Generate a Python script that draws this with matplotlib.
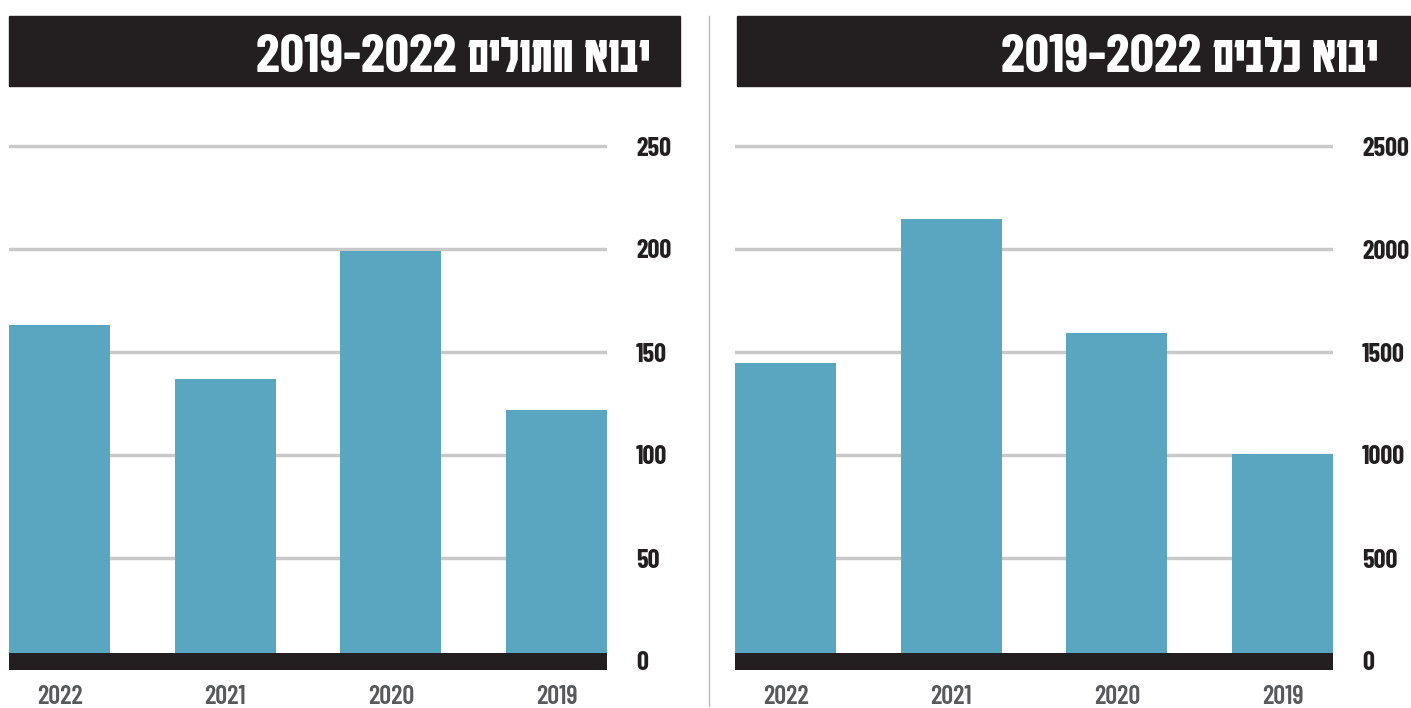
import matplotlib
matplotlib.use("Agg")
import matplotlib.pyplot as plt
from matplotlib.patches import Rectangle

years = ["2022", "2021", "2020", "2019"]
cats = [163, 137, 199, 122]
dogs = [1447, 2146, 1592, 1005]
title_cats = "יבוא חתולים 2019-2022"
title_dogs = "יבוא כלבים 2019-2022"
cat_ticks = [0, 50, 100, 150, 200, 250]
dog_ticks = [0, 500, 1000, 1500, 2000, 2500]

BAR = "#5aa5c0"
DARK = "#231f20"
GRID = "#c9c9c9"
TITLE_FONT = ["Barlow Condensed", "Karantina", "DejaVu Sans"]
NUM_FONT = ["Barlow Condensed", "DejaVu Sans"]


def visual(s):
    # matplotlib has no bidi: reverse word order and the letters of Hebrew words
    out = []
    for w in s.split(" ")[::-1]:
        if any("\u0590" <= c <= "\u05ff" for c in w):
            w = w[::-1]
        out.append(w)
    return " ".join(out)


W, H = 1411, 708
fig = plt.figure(figsize=(W / 100, H / 100), dpi=100)


def panel(x0, x1, values, ticks, title, tx0, tx1, title_right):
    top = ticks[-1]
    step = ticks[1] - ticks[0]
    scale = step / 103.0  # data units per pixel
    ax = fig.add_axes([x0 / W, 1 - 670 / H, (x1 - x0) / W, (670 - 143) / H])
    ax.set_ylim(-9 * scale, top + 3 * scale)
    ax.set_xlim(-0.305, len(values) - 1 + 0.305)
    for t in ticks[1:]:
        ax.axhline(t, color=GRID, lw=2.5, zorder=1)
    ax.bar(range(len(values)), values, width=0.61, color=BAR, zorder=2)
    ax.axhspan(-9 * scale, 8 * scale, color=DARK, lw=0, zorder=3)
    for s in ax.spines.values():
        s.set_visible(False)
    ax.set_xticks(range(len(values)))
    ax.set_xticklabels(years, fontsize=19, fontweight=600, color="#58595b", family=NUM_FONT)
    ax.set_yticks(ticks)
    ax.set_yticklabels([str(t) for t in ticks], fontsize=19, fontweight="bold", color=DARK,
                       family=NUM_FONT)
    ax.yaxis.tick_right()
    ax.tick_params(axis="y", length=0, pad=21)
    ax.tick_params(axis="x", length=0, pad=11)
    for lab in ax.get_yticklabels():
        lab.set_horizontalalignment("left")
    fig.patches.append(Rectangle((tx0 / W, 1 - 86 / H), (tx1 - tx0) / W, 70 / H,
                                 transform=fig.transFigure, color=DARK, zorder=0))
    fig.text(title_right / W, 1 - 72 / H, visual(title), color="white", fontsize=39,
             fontweight="bold", ha="right", va="baseline", family=TITLE_FONT)


panel(9, 607, cats, cat_ticks, title_cats, 9, 680, 650)
panel(735, 1333, dogs, dog_ticks, title_dogs, 737, 1411, 1378)

fig.add_artist(plt.Line2D([709 / W, 709 / W], [1 - 706 / H, 1 - 16 / H],
                          transform=fig.transFigure, color="#bbbbbb", lw=1))

fig.savefig("out.png", dpi=100)
